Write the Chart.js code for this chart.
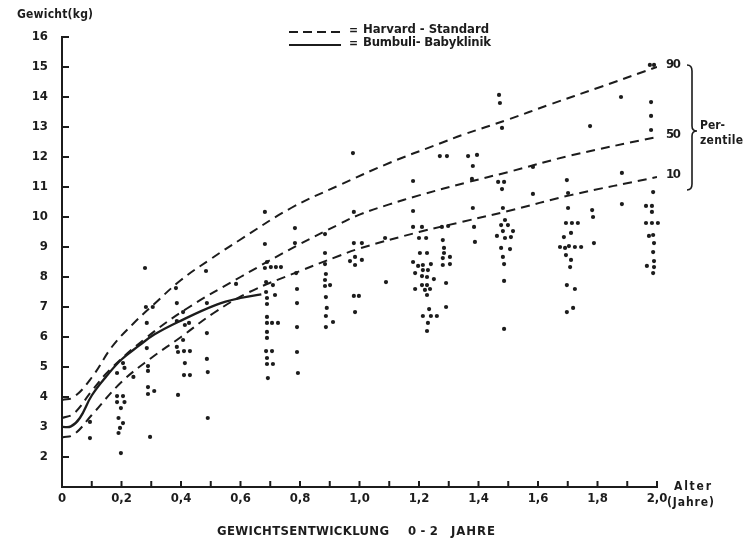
<!DOCTYPE html>
<html><head><meta charset="utf-8">
<script src="https://cdn.jsdelivr.net/npm/chart.js@4/dist/chart.umd.min.js"></script>
<style>html,body{margin:0;padding:0;background:#fff;}canvas{display:block}</style>
</head><body>
<canvas id="c" width="748" height="541"></canvas>
<script>
// ---- Harvard-Standard percentile curves (age in years, weight in kg)
const p90Ages    = [0, 0.04, 0.1, 0.17, 0.24, 0.31, 0.4, 0.5, 0.6, 0.77, 0.93, 1.1, 1.27, 1.35, 1.5, 1.64, 1.8, 2.0];
const p90Weights = [3.9, 4.0, 4.65, 5.7, 6.45, 7.1, 7.9, 8.6, 9.25, 10.3, 11.05, 11.8, 12.45, 12.75, 13.25, 13.75, 14.3, 15.0];
const p50Ages    = [0, 0.04, 0.1, 0.16, 0.28, 0.42, 0.6, 0.8, 0.93, 1.0, 1.1, 1.2, 1.36, 1.5, 1.71, 2.0];
const p50Weights = [3.3, 3.45, 4.2, 4.9, 5.95, 6.95, 8.0, 9.1, 9.75, 10.08, 10.42, 10.72, 11.15, 11.5, 12.05, 12.67];
const p10Ages    = [0, 0.04, 0.1, 0.2, 0.3, 0.4, 0.51, 0.63, 0.8, 0.93, 1.0, 1.2, 1.35, 1.5, 1.71, 2.0];
const p10Weights = [2.65, 2.75, 3.4, 4.5, 5.3, 6.0, 6.8, 7.5, 8.2, 8.7, 8.95, 9.5, 9.85, 10.2, 10.73, 11.33];
// ---- Bumbuli-Babyklinik curve
const bumbuliAges    = [0, 0.03, 0.06, 0.1, 0.15, 0.2, 0.26, 0.31, 0.39, 0.52, 0.6, 0.67];
const bumbuliWeights = [3.0, 3.02, 3.3, 4.05, 4.7, 5.25, 5.72, 6.08, 6.5, 7.08, 7.3, 7.42];
// ---- individual measurements
const childAges = [
 0.094,0.094,0.185,0.205,0.21,0.24,0.185,0.205,0.185,0.21,0.198,0.19,0.205,0.195,0.19,0.198,
 0.279,0.282,0.305,0.285,0.285,0.289,0.289,0.289,0.289,0.31,0.296,
 0.383,0.386,0.386,0.407,0.413,0.427,0.407,0.386,0.39,0.41,0.43,0.413,0.41,0.43,0.39,
 0.484,0.487,0.487,0.487,0.49,0.49,0.585,
 0.682,0.682,0.689,0.682,0.702,0.719,0.736,0.686,0.709,0.686,0.689,0.716,0.689,0.689,0.689,0.706,0.726,0.689,0.689,0.686,0.706,0.689,0.689,0.709,0.692,
 0.783,0.783,0.787,0.79,0.79,0.79,0.79,0.793,
 0.884,0.884,0.884,0.887,0.884,0.884,0.901,0.887,0.89,0.887,0.911,0.887,
 0.981,0.978,0.981,1.008,0.968,0.985,1.008,0.985,0.981,0.998,0.985,1.086,1.089,
 1.18,1.18,1.18,1.21,1.2,1.224,1.203,1.227,1.18,1.197,1.213,1.24,1.187,1.21,1.227,1.25,1.213,1.23,1.21,1.227,1.187,1.22,1.237,1.227,1.234,1.213,1.24,1.26,1.23,1.227,
 1.27,1.294,1.28,1.298,1.277,1.284,1.284,1.28,1.304,1.28,1.304,1.291,1.291,
 1.365,1.395,1.381,1.378,1.381,1.385,1.388,
 1.469,1.472,1.479,1.466,1.486,1.479,1.482,1.489,1.476,1.499,1.482,1.516,1.462,1.489,1.509,1.476,1.506,1.482,1.486,1.486,1.486,
 1.583,1.583,
 1.697,1.701,1.701,1.694,1.687,1.674,1.691,1.697,1.697,1.714,1.734,1.711,1.704,1.724,1.745,1.694,1.711,1.708,1.724,1.718,
 1.775,1.782,1.785,1.788,1.879,1.882,1.882,
 1.976,1.99,1.98,1.98,1.98,1.987,1.963,1.983,1.983,1.963,1.983,2.003,1.973,1.987,1.99,1.987,1.99,1.966,1.99,1.987
];
const childWeights = [
 3.17,2.63,4.8,5.13,4.97,4.67,4.03,4.03,3.83,3.83,3.63,3.3,3.13,2.97,2.8,2.13,
 8.3,7.0,7.0,6.47,5.63,5.03,4.87,4.33,4.1,4.2,2.67,
 7.63,7.13,6.53,6.83,6.4,6.47,5.9,5.67,5.5,5.53,5.53,5.13,4.73,4.73,4.07,
 8.2,7.13,6.13,5.27,4.83,3.3,7.77,
 10.17,9.1,8.5,8.3,8.33,8.33,8.33,7.83,7.73,7.5,7.3,7.4,7.1,6.67,6.47,6.47,6.47,6.17,5.97,5.53,5.53,5.3,5.1,5.1,4.63,
 9.63,9.13,8.13,7.6,7.13,6.33,5.5,4.8,
 9.43,8.8,8.43,8.1,7.9,7.7,7.73,7.33,6.97,6.7,6.5,6.33,
 10.17,12.13,9.13,9.13,8.53,8.67,8.57,8.4,7.37,7.37,6.83,9.3,7.83,
 11.2,10.2,9.67,9.67,9.3,9.3,8.8,8.8,8.5,8.37,8.4,8.43,8.13,8.03,8.0,7.93,8.23,8.23,7.73,7.73,7.6,7.57,7.6,7.4,6.93,6.7,6.7,6.7,6.47,6.2,
 12.03,12.03,9.23,9.7,9.67,8.97,8.8,8.63,8.67,8.4,8.43,7.8,7.0,
 12.03,12.07,11.7,11.27,10.3,9.67,9.17,
 14.07,13.8,12.97,11.17,11.17,10.93,10.3,9.9,9.73,9.73,9.53,9.53,9.37,9.3,9.33,8.97,8.93,8.67,8.43,7.87,6.27,
 11.67,10.77,
 11.23,10.8,10.3,9.8,9.33,9.0,8.97,7.73,6.83,9.8,9.8,9.47,9.03,9.0,9.0,8.73,8.57,8.33,7.6,6.97,
 13.03,10.23,10.0,9.13,14.0,11.47,10.43,
 15.07,15.07,13.83,13.37,12.9,10.83,10.37,10.37,10.17,9.8,9.8,9.8,9.37,9.4,9.13,8.83,8.53,8.37,8.33,8.13
];
// ---- axis tick labels
const yTickValues = [2,3,4,5,6,7,8,9,10,11,12,13,14,15,16];
const xLabelTenths = [0,2,4,6,8,10,12,14,16,18,20];
const percentileLabels = ['90','50','10'];

const INK = '#1c1c1c';
const FONT = "'DejaVu Sans Condensed', 'DejaVu Sans', sans-serif";
const pts = (xs, ys) => xs.map((v,i)=>({x:v, y:ys[i]}));

function fitText(ctx, text, x, y, w, font){
  ctx.font = font; ctx.letterSpacing = '0px';
  const m = ctx.measureText(text).width;
  let ls = text.length > 1 ? (w - m) / (text.length - 1) : 0;
  ls = Math.max(-1.5, Math.min(8, ls));
  ctx.letterSpacing = ls + 'px';
  ctx.textAlign = 'left'; ctx.textBaseline = 'middle';
  ctx.fillText(text, x, y);
  ctx.letterSpacing = '0px';
}

const inwardTicks = {
  id: 'inwardTicks',
  afterDraw(chart){
    const {ctx, scales:{x, y}, chartArea:a} = chart;
    ctx.save(); ctx.strokeStyle = INK; ctx.lineWidth = 2;
    x.ticks.forEach(t => {
      const px = x.getPixelForValue(t.value);
      if (px <= a.left + 1) return;
      ctx.beginPath(); ctx.moveTo(px, a.bottom); ctx.lineTo(px, a.bottom - 6); ctx.stroke();
    });
    y.ticks.forEach(t => {
      if (!yTickValues.includes(t.value)) return;
      const py = y.getPixelForValue(t.value);
      ctx.beginPath(); ctx.moveTo(a.left, py); ctx.lineTo(a.left + 7, py); ctx.stroke();
    });
    ctx.restore();
  }
};

const annotations = {
  id: 'annotations',
  afterDraw(chart){
    const {ctx, scales:{x, y}} = chart;
    ctx.save(); ctx.fillStyle = INK; ctx.strokeStyle = INK;
    fitText(ctx, 'Gewicht(kg)', 17, 15, 76, 'bold 12px ' + FONT);
    ctx.lineWidth = 2;
    ctx.setLineDash([9,5]);
    ctx.beginPath(); ctx.moveTo(289, 32); ctx.lineTo(341, 32); ctx.stroke();
    ctx.setLineDash([]);
    ctx.lineWidth = 2.2;
    ctx.beginPath(); ctx.moveTo(289, 45); ctx.lineTo(341, 45); ctx.stroke();
    fitText(ctx, '=', 349, 31, 6, 'bold 12px ' + FONT);
    fitText(ctx, 'Harvard - Standard', 363, 30, 126, 'bold 13px ' + FONT);
    fitText(ctx, '=', 349, 44, 6, 'bold 12px ' + FONT);
    fitText(ctx, 'Bumbuli- Babyklinik', 363, 43, 128, 'bold 13px ' + FONT);
    const ends = [p90Weights[p90Weights.length-1], p50Weights[p50Weights.length-1], p10Weights[p10Weights.length-1]];
    const xEnd = x.getPixelForValue(2.0) + 9;
    percentileLabels.forEach((lab, i) => {
      fitText(ctx, lab, xEnd, y.getPixelForValue(ends[i]) - 2, 15, 'bold 13px ' + FONT);
    });
    const bx = 692, top = 65, bot = 190, mid = 131;
    ctx.lineWidth = 1.6;
    ctx.beginPath();
    ctx.moveTo(bx - 5, top);
    ctx.quadraticCurveTo(bx, top, bx, top + 6);
    ctx.lineTo(bx, mid - 5);
    ctx.quadraticCurveTo(bx, mid, bx + 5, mid);
    ctx.quadraticCurveTo(bx, mid, bx, mid + 5);
    ctx.lineTo(bx, bot - 6);
    ctx.quadraticCurveTo(bx, bot, bx - 5, bot);
    ctx.stroke();
    fitText(ctx, 'Per-', 700, 126, 25, 'bold 12px ' + FONT);
    fitText(ctx, 'zentile', 700, 141, 43, 'bold 12px ' + FONT);
    fitText(ctx, 'Alter', 674, 487, 37, 'bold 12px ' + FONT);
    fitText(ctx, '(Jahre)', 667, 503, 47, 'bold 12px ' + FONT);
    fitText(ctx, 'GEWICHTSENTWICKLUNG', 217, 532, 172, 'bold 13px ' + FONT);
    fitText(ctx, '0 - 2', 408, 532, 30, 'bold 13px ' + FONT);
    fitText(ctx, 'JAHRE', 451, 532, 44, 'bold 13px ' + FONT);
    ctx.restore();
  }
};

const dashed = (label, xs, ys) => ({
  type: 'line', label, data: pts(xs, ys),
  borderColor: INK, borderWidth: 2, borderDash: [9, 6],
  pointRadius: 0, fill: false, tension: 0.4, order: 2
});

new Chart(document.getElementById('c'), {
  type: 'scatter',
  data: {
    datasets: [
      { type: 'scatter', label: 'Kinder', data: pts(childAges, childWeights),
        pointRadius: 2.1, pointBackgroundColor: INK, pointBorderWidth: 0, clip: 8, order: 1 },
      dashed('P90', p90Ages, p90Weights),
      dashed('P50', p50Ages, p50Weights),
      dashed('P10', p10Ages, p10Weights),
      { type: 'line', label: 'Bumbuli-Babyklinik', data: pts(bumbuliAges, bumbuliWeights),
        borderColor: INK, borderWidth: 2.3, pointRadius: 0, fill: false,
        tension: 0.4, order: 0 }
    ]
  },
  options: {
    responsive: false, animation: false, devicePixelRatio: 1,
    layout: { padding: { left: 0, right: 91, top: 37, bottom: 0 } },
    plugins: { legend: { display: false }, tooltip: { enabled: false } },
    scales: {
      x: {
        type: 'linear', min: 0, max: 2,
        grid: { display: false, drawTicks: false },
        border: { display: true, color: INK, width: 2 },
        ticks: {
          stepSize: 0.1, autoSkip: false, maxRotation: 0, padding: 4, color: INK,
          font: { family: FONT, size: 13, weight: 'bold' },
          callback: (v) => {
            const t = Math.round(v * 10);
            if (!xLabelTenths.includes(t)) return '';
            return t === 0 ? '0' : (t / 10).toFixed(1).replace('.', ',');
          }
        },
        afterFit: (s) => { s.height = 54; }
      },
      y: {
        type: 'linear', min: 1, max: 16,
        grid: { display: false, drawTicks: false },
        border: { display: true, color: INK, width: 2 },
        ticks: {
          stepSize: 1, padding: 14, color: INK,
          font: { family: FONT, size: 13, weight: 'bold' },
          callback: (v) => yTickValues.includes(v) ? String(v) : ''
        },
        afterFit: (s) => { s.width = 62; }
      }
    }
  },
  plugins: [inwardTicks, annotations]
});
</script>
</body></html>
